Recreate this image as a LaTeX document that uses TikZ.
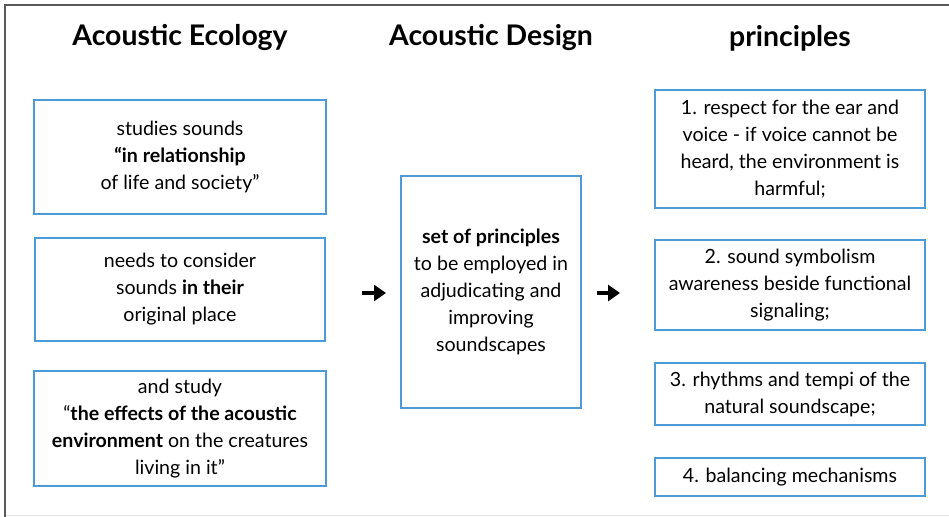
\documentclass[tikz,border=0pt]{standalone}
\usepackage{fontspec}
\setmainfont{Lato}
\usetikzlibrary{positioning,shapes,arrows,arrows.meta,calc}
\definecolor{boxblue}{HTML}{4A9BD7}
\tikzstyle{box} = [rectangle, draw=boxblue, line width=1pt, %
   text centered, align=center, inner sep=0pt, font=\fontsize{9.8}{13.5}\selectfont]
\tikzstyle{title} = [font=\fontsize{14.2}{16}\selectfont\bfseries]
\tikzstyle{bigline} = [draw, line width=1.8pt, -{Triangle[length=6pt,width=8pt]}]

\begin{document}
\begin{tikzpicture}[x=0.5pt, y=-0.5pt]
   \useasboundingbox (0,0) rectangle (949,517);
   % Frame
   \draw[gray!20] (5,515) -- (949,515);
   \draw[black!65, line width=0.8pt] (5,517) -- (5,5) -- (949,5);

% Titles %%%%%%%%%%%%%%%%%%%%%%%%%%%%%%%%%%%%%%%%%%%%%%%%%%%%%%%%%%%%
   \node[title] (ecoT) at (180,38) {Acoustic Ecology};
   \node[title] (desT) at (491,38) {Acoustic Design};
   \node[title] (prinT) at (790,38) {principles};

% Acoustic Ecology %%%%%%%%%%%%%%%%%%%%%%%%%%%%%%%%%%%%%%%%%%%%%%%%%%
   \node[box, minimum width=146pt, minimum height=57pt] (eco1) at (180,157){%
      studies sounds\\ \textbf{“in relationship}\\ of life and society”};

   \node[box, below=11pt of eco1, minimum width=145pt, minimum height=51.5pt](eco2){%
      needs to consider\\ sounds \textbf{in their}\\ original place};

   \node[box, below=14pt of eco2, minimum width=146pt, minimum height=57.5pt](eco3){%
      and study\\ “\textbf{the effects of the acoustic}\\ \textbf{environment} on the creatures\\ living in it”};

% Acoustic Design %%%%%%%%%%%%%%%%%%%%%%%%%%%%%%%%%%%%%%%%%%%%%%%%%%%
   \node[box, minimum width=90pt, minimum height=116pt] (design) at (491,292){%
      \textbf{set of principles}\\ to be employed in\\ adjudicating and\\ improving\\ soundscapes};

% Principles %%%%%%%%%%%%%%%%%%%%%%%%%%%%%%%%%%%%%%%%%%%%%%%%%%%%%%%%
   \node[box, minimum width=135pt, minimum height=59pt] (prin1) at (790,149){%
      1. respect for the ear and\\ voice - if voice cannot be\\ heard, the environment is\\ harmful;};

   \node[box, below=15pt of prin1, minimum width=135pt, minimum height=45pt](prin2){%
      2. sound symbolism\\ awareness beside functional\\ signaling;};

   \node[box, below=15.5pt of prin2, minimum width=135pt, minimum height=31pt](prin3){%
      3. rhythms and tempi of the\\ natural soundscape;};

   \node[box, below=15.5pt of prin3, minimum width=135pt, minimum height=19pt](prin4){%
      4. balancing mechanisms};

   % Arrows
   \coordinate (ecoOut) at ($(eco2.east)+(36,3.5)$);
   \coordinate (desIn) at ($(design.west)+(-14,1)$);
   \coordinate (desOut) at ($(design.east)+(15,1)$);
   \coordinate (prinIn) at ($(prin2.west)+(-34,8)$);
   \path [bigline] (ecoOut) -- (desIn);
   \path [bigline] (desOut) -- (prinIn);

\end{tikzpicture}
\end{document}
